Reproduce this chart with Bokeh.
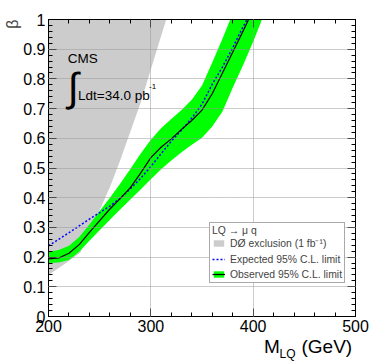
import math
from bokeh.plotting import figure
from bokeh.layouts import column
from bokeh.models import (Range1d, LinearAxis, SingleIntervalTicker, Label, Legend,
                          LegendItem, CustomJSTickFormatter, Title)
from bokeh.embed import file_html
from bokeh.resources import INLINE

# ---------------- data ----------------
obs_mass = [200, 210, 220, 230, 240, 250, 260, 270, 280, 290, 300, 310, 320, 330,
            340, 350, 360, 370, 380, 390, 395.5]
obs_beta = [0.194, 0.197, 0.213, 0.242, 0.283, 0.323, 0.362, 0.397, 0.434, 0.483,
            0.535, 0.570, 0.598, 0.630, 0.660, 0.695, 0.750, 0.820, 0.890, 0.960, 1.0]

exp_mass = [200, 220, 240, 260, 270, 280, 290, 300, 310, 320, 330, 340, 350, 360,
            370, 380, 390, 394]
exp_beta = [0.238, 0.282, 0.328, 0.372, 0.398, 0.430, 0.465, 0.505, 0.548, 0.590,
            0.628, 0.668, 0.715, 0.782, 0.840, 0.905, 0.975, 1.0]

band_hi_mass = [200, 210, 220, 230, 240, 250, 260, 270, 280, 290, 300, 310, 320, 330,
                340, 350, 360, 370, 377.6]
band_hi_beta = [0.218, 0.224, 0.238, 0.268, 0.310, 0.355, 0.400, 0.447, 0.497, 0.548,
                0.595, 0.634, 0.665, 0.695, 0.730, 0.778, 0.855, 0.935, 1.0]
band_lo_mass = [200, 210, 220, 230, 240, 250, 260, 270, 280, 290, 300, 310, 320, 330,
                340, 350, 360, 370, 380, 390, 400, 408.6]
band_lo_beta = [0.180, 0.182, 0.190, 0.218, 0.255, 0.290, 0.326, 0.360, 0.394, 0.428,
                0.462, 0.496, 0.525, 0.553, 0.578, 0.602, 0.640, 0.690, 0.770, 0.845,
                0.925, 1.0]

d0_mass = [200, 215, 231, 245, 260, 270, 290, 315]
d0_beta = [0.14, 0.175, 0.215, 0.32, 0.435, 0.525, 0.72, 1.0]

x_major = 100
y_major = 0.1

FONT = "Liberation Sans"

p = figure(width=374, height=337, x_range=Range1d(200, 500), y_range=Range1d(0, 1),
           output_backend="svg", toolbar_location=None,
           min_border_left=48, min_border_right=19, min_border_top=19, min_border_bottom=21)
p.background_fill_color = "white"
p.border_fill_color = "white"
p.outline_line_color = "black"
p.outline_line_width = 1

# D0 excluded region (from left edge up to the boundary)
d0 = p.patch([200] + d0_mass, [1.0] + d0_beta, fill_color="#cccccc", line_color=None)

band = p.patch(band_hi_mass + band_lo_mass[::-1], band_hi_beta + band_lo_beta[::-1],
               fill_color="#00ff00", line_color=None)
exp = p.line(exp_mass, exp_beta, line_color="#0000ff", line_width=1.5, line_dash="2 2")
obs = p.line(obs_mass, obs_beta, line_color="black", line_width=1.2)

# ---------------- axes ----------------
blank = CustomJSTickFormatter(code="return '';")

def style_axis(ax, show_labels):
    ax.major_tick_in = 8
    ax.major_tick_out = 0
    ax.minor_tick_in = 4
    ax.minor_tick_out = 0
    ax.axis_line_color = "black"
    ax.major_tick_line_color = "black"
    ax.minor_tick_line_color = "black"
    ax.major_label_text_font = FONT
    ax.major_label_text_color = "black"
    if show_labels:
        ax.major_label_text_font_size = "16px"
    else:
        ax.formatter = blank
        ax.major_label_text_font_size = "1px"
        ax.major_label_standoff = 0

xt = SingleIntervalTicker(interval=x_major, num_minor_ticks=5)
yt = SingleIntervalTicker(interval=y_major, num_minor_ticks=5)
fmt = CustomJSTickFormatter(code="return Number(tick.toFixed(2)).toString();")

p.xaxis.ticker = xt
p.yaxis.ticker = yt
p.yaxis.formatter = fmt
style_axis(p.xaxis[0], True)
style_axis(p.yaxis[0], True)
p.xaxis.major_label_standoff = 3
p.yaxis.major_label_standoff = 3

top = LinearAxis(ticker=xt)
style_axis(top, False)
p.add_layout(top, "above")
right = LinearAxis(ticker=yt)
style_axis(right, False)
p.add_layout(right, "right")

p.grid.grid_line_color = "#999999"
p.grid.grid_line_dash = "1 1"
p.grid.grid_line_width = 1
p.xgrid.level = "guide"
p.ygrid.level = "guide"

# y-axis title (ROOT style: at the top end of the axis)
p.add_layout(Title(text="β", align="right", text_font=FONT, text_font_size="16px",
                   text_font_style="normal", standoff=0), "left")

# ---------------- texts inside the frame ----------------
def lab(fig, text, x, y, size, **kw):
    l = Label(x=x, y=y, x_units="screen", y_units="screen", text=text,
              text_font=FONT, text_font_size=size, text_color="black", **kw)
    fig.add_layout(l)
    return l

lab(p, "CMS", 19.3, 251, "13.5px")
lab(p, "∫", 19, 208, "40px")
lab(p, "Ldt=34.0 pb", 29.5, 213.3, "13.5px")
lab(p, "-1", 100.5, 228, "8px")

# ---------------- legend ----------------
legend = Legend(items=[
    LegendItem(label="DØ exclusion (1 fb⁻¹)", renderers=[d0]),
    LegendItem(label="Expected 95% C.L. limit", renderers=[exp]),
    LegendItem(label="Observed 95% C.L. limit", renderers=[band, obs]),
], location=(161, 33), title="LQ → μ q")
legend.label_text_font = FONT
legend.label_text_font_size = "10.4px"
legend.title_text_font = FONT
legend.title_text_font_size = "10.4px"
legend.title_text_font_style = "normal"
legend.title_standoff = -9
legend.glyph_width = 13
legend.glyph_height = 8
legend.label_standoff = 5
legend.label_height = 12
legend.spacing = 3
legend.padding = 2
legend.margin = 0
legend.border_line_color = "#555555"
legend.border_line_width = 1
legend.background_fill_alpha = 1
p.add_layout(legend)

# ---------------- x-axis title strip (M_LQ with subscript) ----------------
# (its frame is aligned with the main frame by the column layout, so x is frame-relative)
tf = figure(width=374, height=26, x_range=Range1d(0, 1), y_range=Range1d(0, 1),
            output_backend="svg", toolbar_location=None,
            x_axis_location=None, y_axis_location=None,
            min_border_left=0, min_border_right=0, min_border_top=0, min_border_bottom=0)
tf.title.visible = False
tf.grid.visible = False
tf.outline_line_color = None
tf.background_fill_color = "white"
tf.border_fill_color = "white"
lab(tf, "M", 215.5, 7, "19px")
lab(tf, "LQ", 231, 3, "12px")
lab(tf, "(GeV)", 253, 7, "19px")

layout = column(p, tf, spacing=0)
open("out.html", "w").write(file_html(layout, INLINE))
